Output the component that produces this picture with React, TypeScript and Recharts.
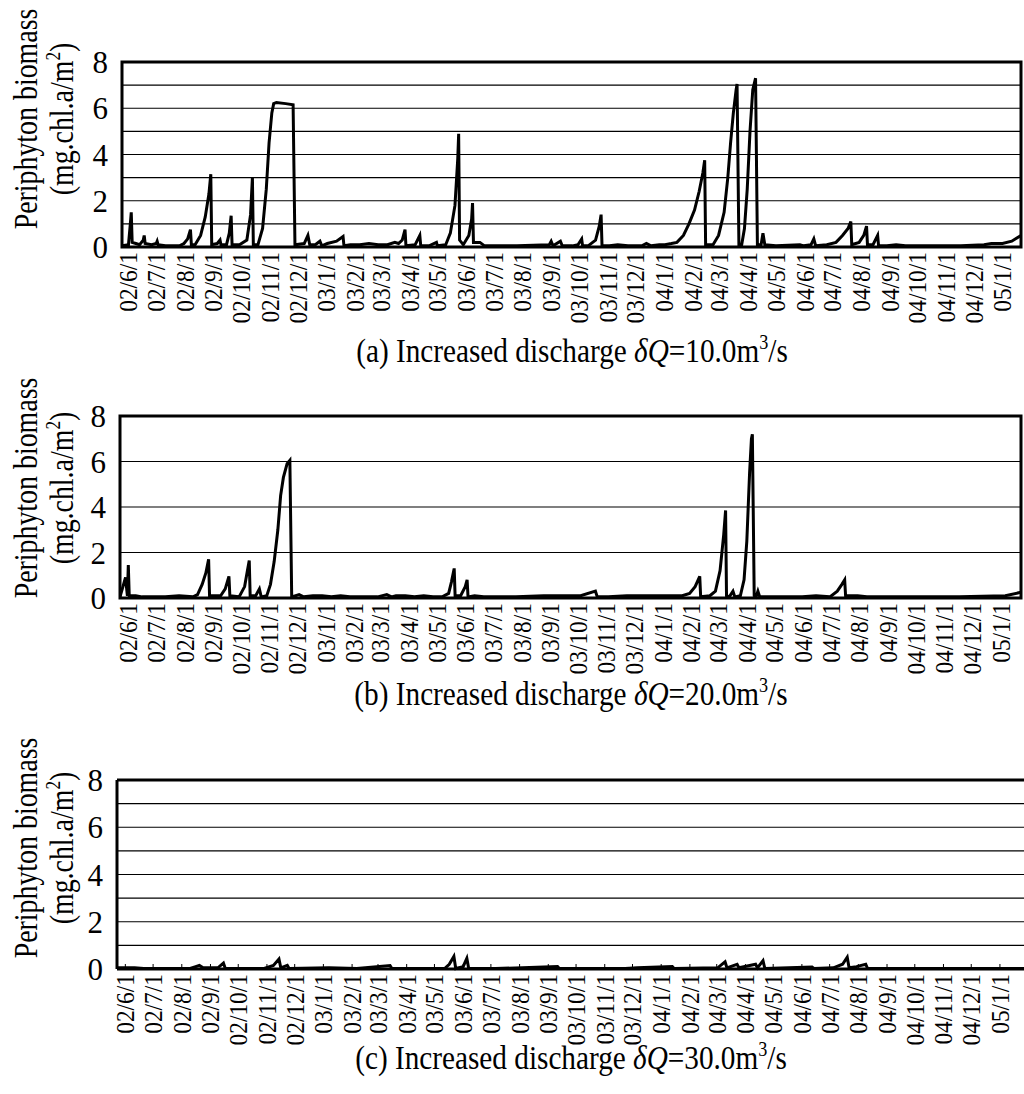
import React from "react";
import {
  LineChart,
  Line,
  XAxis,
  YAxis,
  CartesianGrid,
  ReferenceArea,
  ReferenceLine,
} from "recharts";

// month tick labels (yy/m/d)
const monthLabels = [
  "02/6/1", "02/7/1", "02/8/1", "02/9/1", "02/10/1", "02/11/1", "02/12/1",
  "03/1/1", "03/2/1", "03/3/1", "03/4/1", "03/5/1", "03/6/1", "03/7/1",
  "03/8/1", "03/9/1", "03/10/1", "03/11/1", "03/12/1",
  "04/1/1", "04/2/1", "04/3/1", "04/4/1", "04/5/1", "04/6/1", "04/7/1",
  "04/8/1", "04/9/1", "04/10/1", "04/11/1", "04/12/1",
  "05/1/1",
];

const yTicks = [0, 2, 4, 6, 8];
const gridValues = [0, 1, 2, 3, 4, 5, 6, 7, 8];

// [days since 2002/6/1, biomass mg.chl.a/m2]
const biomassQ10 = [
  [-7, 0.05], [0, 0.1], [2, 1.0], [3, 1.5], [4, 0.2], [8, 0.15], [12, 0.1], [16, 0.3], [17, 0.5], [18, 0.15],
  [25, 0.1], [30, 0.15], [31, 0.25], [32, 0.1], [40, 0.05], [55, 0.05], [60, 0.15], [64, 0.35], [67, 0.75], [68, 0.1],
  [72, 0.1], [78, 0.5], [83, 1.3], [87, 2.3], [89, 3.15], [90, 0.1], [96, 0.15], [99, 0.3], [100, 0.1], [106, 0.1],
  [109, 0.6], [111, 1.35], [112, 0.1], [120, 0.1], [128, 0.3], [132, 1.4], [134, 3.0], [135, 0.1], [140, 0.1], [145, 0.8],
  [149, 2.5], [152, 4.5], [155, 5.8], [157, 6.2], [160, 6.25], [170, 6.2], [178, 6.15], [180, 0.1], [190, 0.15], [194, 0.5],
  [196, 0.1], [202, 0.1], [207, 0.25], [209, 0.05], [215, 0.15], [225, 0.25], [232, 0.45], [233, 0.05], [240, 0.1], [250, 0.1],
  [260, 0.15], [270, 0.1], [280, 0.1], [288, 0.2], [292, 0.15], [296, 0.3], [299, 0.75], [300, 0.05], [310, 0.1], [315, 0.5],
  [316, 0.05], [325, 0.05], [333, 0.2], [334, 0.05], [343, 0.1], [348, 0.6], [353, 1.8], [356, 3.8], [357, 4.9], [358, 0.3],
  [362, 0.1], [368, 0.5], [371, 1.2], [372, 1.9], [373, 0.2], [380, 0.2], [385, 0.05], [420, 0.05], [455, 0.1], [457, 0.25],
  [459, 0.05], [467, 0.25], [469, 0.05], [480, 0.05], [486, 0.1], [490, 0.35], [491, 0.05], [497, 0.05], [505, 0.3], [509, 0.9],
  [511, 1.4], [512, 0.05], [520, 0.05], [529, 0.1], [540, 0.05], [555, 0.05], [560, 0.15], [565, 0.05], [574, 0.1], [580, 0.1],
  [587, 0.15], [593, 0.2], [600, 0.5], [606, 1.0], [612, 1.6], [617, 2.4], [621, 3.2], [623, 3.75], [624, 0.1], [632, 0.1],
  [638, 0.5], [644, 1.5], [648, 3.0], [651, 4.5], [654, 5.8], [657, 6.8], [658, 7.05], [660, 0.1], [663, 0.1], [666, 0.8],
  [669, 2.5], [672, 5.0], [675, 6.8], [678, 7.3], [680, 0.1], [684, 0.1], [686, 0.6], [688, 0.1], [700, 0.05], [726, 0.1],
  [730, 0.05], [738, 0.1], [741, 0.35], [743, 0.05], [755, 0.1], [765, 0.2], [772, 0.5], [778, 0.8], [781, 1.1], [782, 0.1],
  [790, 0.2], [795, 0.5], [798, 0.9], [799, 0.1], [805, 0.1], [810, 0.5], [811, 0.05], [820, 0.05], [830, 0.1], [840, 0.05],
  [900, 0.05], [925, 0.1], [933, 0.15], [945, 0.15], [955, 0.25], [965, 0.5],
];

const biomassQ20 = [
  [-9, 0.05], [-3, 0.9], [-1, 0.1], [0, 1.45], [1, 0.1], [8, 0.1], [15, 0.05], [30, 0.05], [40, 0.05], [55, 0.1],
  [70, 0.05], [75, 0.15], [80, 0.6], [84, 1.1], [87, 1.7], [88, 0.1], [100, 0.1], [105, 0.4], [109, 0.95], [110, 0.1],
  [120, 0.05], [126, 0.5], [129, 1.2], [131, 1.65], [132, 0.1], [138, 0.1], [142, 0.4], [144, 0.05], [150, 0.1], [154, 0.6],
  [158, 1.6], [162, 3.0], [165, 4.5], [168, 5.3], [172, 5.9], [175, 6.05], [177, 0.05], [185, 0.15], [190, 0.05], [200, 0.1],
  [210, 0.1], [220, 0.05], [230, 0.1], [240, 0.05], [250, 0.05], [270, 0.05], [280, 0.15], [285, 0.05], [290, 0.1], [300, 0.1],
  [310, 0.05], [320, 0.1], [330, 0.05], [340, 0.05], [347, 0.2], [350, 0.7], [353, 1.3], [354, 0.1], [360, 0.1], [365, 0.5],
  [367, 0.8], [368, 0.05], [375, 0.1], [385, 0.05], [420, 0.05], [450, 0.1], [470, 0.1], [490, 0.1], [506, 0.3], [508, 0.05],
  [520, 0.05], [540, 0.1], [560, 0.1], [580, 0.1], [600, 0.1], [608, 0.2], [614, 0.5], [619, 0.95], [620, 0.05], [630, 0.1],
  [636, 0.3], [641, 1.2], [645, 2.8], [647, 3.85], [648, 0.1], [651, 0.05], [655, 0.3], [657, 0.05], [663, 0.1], [667, 0.8],
  [670, 2.5], [673, 5.5], [675, 7.0], [676, 7.2], [678, 0.1], [680, 0.05], [682, 0.3], [684, 0.05], [700, 0.05], [730, 0.05],
  [745, 0.1], [760, 0.05], [768, 0.3], [773, 0.6], [776, 0.8], [777, 0.1], [790, 0.1], [800, 0.05], [850, 0.05], [900, 0.05],
  [950, 0.1], [967, 0.25],
];

const biomassQ30 = [
  [-9, 0.05], [10, 0.05], [20, 0.02], [70, 0.02], [76, 0.1], [80, 0.15], [84, 0.05], [100, 0.05], [106, 0.25], [108, 0.02],
  [150, 0.02], [160, 0.15], [166, 0.42], [168, 0.05], [175, 0.15], [177, 0.02], [220, 0.05], [250, 0.02], [286, 0.15], [288, 0.02],
  [345, 0.02], [350, 0.2], [355, 0.53], [357, 0.02], [365, 0.1], [369, 0.45], [371, 0.02], [400, 0.02], [467, 0.1], [469, 0.02],
  [540, 0.02], [553, 0.05], [591, 0.1], [593, 0.02], [640, 0.05], [648, 0.3], [650, 0.05], [661, 0.2], [663, 0.05], [681, 0.2],
  [683, 0.05], [689, 0.35], [691, 0.02], [742, 0.08], [744, 0.02], [765, 0.05], [775, 0.2], [780, 0.5], [782, 0.05], [790, 0.1],
  [800, 0.2], [802, 0.02], [830, 0.02], [971, 0.02],
];

const FONT = "'Liberation Serif', 'Times New Roman', serif";
const DAY_MS = 86400000;

const labelToDay = (label: string) => {
  const [yy, mm] = label.split("/").map(Number);
  return Math.round((Date.UTC(2000 + yy, mm - 1, 1) - Date.UTC(2002, 5, 1)) / DAY_MS);
};
const monthDays = monthLabels.map(labelToDay);
const dayToLabel: Record<number, string> = {};
monthDays.forEach((d, i) => (dayToLabel[d] = monthLabels[i]));

const MonthTick = (props: any) => {
  const { x, y, payload, shift = 0 } = props;
  const ty = y + 5 + shift;
  return (
    <text
      x={0}
      y={0}
      transform={`translate(${x} ${ty}) rotate(-90) scale(0.9 1)`}
      textAnchor="end"
      dominantBaseline="central"
      fontSize={26}
      fontFamily={FONT}
      fill="#000"
    >
      {dayToLabel[payload.value]}
    </text>
  );
};

const Sup = ({ children }: { children: React.ReactNode }) => (
  <span style={{ fontSize: "0.62em", position: "relative", top: "-0.6em" }}>{children}</span>
);

interface PanelProps {
  data: number[][];
  letter: string;
  dq: string;
  top: number;
  bottom: number;
  left: number;
  right: number;
  domain: [number, number];
  closed: boolean;
  titleY: number;
  captionBaseline: number;
}

const Panel = ({ data, letter, dq, top, bottom, left, right, domain, closed, titleY, captionBaseline }: PanelProps) => {
  const mTop = 20;
  const axisH = 100;
  const yW = 60;
  const rows = data.map(([day, v]) => ({ day, v }));
  // the open panel (c) shows small inward month ticks
  const tickSize = closed ? 0 : -5;
  return (
    <>
      <div style={{ position: "absolute", left: 0, top: top - mTop }}>
        <LineChart
          width={1024}
          height={mTop + (bottom - top) + axisH}
          data={rows}
          margin={{ top: mTop, left: left - yW, right: 1024 - right, bottom: 0 }}
        >
          <CartesianGrid horizontal vertical={false} horizontalValues={gridValues} stroke="#000" strokeWidth={1.2} />
          <XAxis
            dataKey="day"
            type="number"
            domain={domain}
            allowDataOverflow
            ticks={monthDays}
            interval={0}
            tick={<MonthTick shift={-tickSize} />}
            tickLine={closed ? false : { stroke: "#000", strokeWidth: 1 }}
            tickSize={tickSize}
            tickMargin={0}
            axisLine={false}
            height={axisH}
          />
          <YAxis
            domain={[0, 8]}
            ticks={yTicks}
            width={yW}
            tickLine={false}
            tickSize={0}
            tickMargin={14}
            axisLine={false}
            tick={{ fontSize: 31, fontFamily: FONT, fill: "#000" }}
          />
          {closed ? (
            <ReferenceArea x1={domain[0]} x2={domain[1]} y1={0} y2={8} fill="none" stroke="#000" strokeWidth={3} ifOverflow="visible" />
          ) : null}
          {!closed ? <ReferenceLine y={0} stroke="#000" strokeWidth={3} /> : null}
          {!closed ? <ReferenceLine y={8} stroke="#000" strokeWidth={3} /> : null}
          {!closed ? <ReferenceLine x={domain[0]} stroke="#000" strokeWidth={3} /> : null}
          <Line
            type="linear"
            dataKey="v"
            stroke="#000"
            strokeWidth={3}
            dot={false}
            isAnimationActive={false}
          />
        </LineChart>
      </div>
      <div
        style={{
          position: "absolute",
          left: 46,
          top: titleY,
          width: 340,
          transform: "translate(-50%, -50%) rotate(-90deg) scaleX(0.82)",
          textAlign: "center",
          fontFamily: FONT,
          fontSize: 34,
          lineHeight: "36px",
          whiteSpace: "nowrap",
          color: "#000",
        }}
      >
        <div>Periphyton biomass</div>
        <div>
          (mg.chl.a/m<Sup>2</Sup>)
        </div>
      </div>
      <div
        style={{
          position: "absolute",
          left: (left + right) / 2 - 400,
          width: 800,
          top: captionBaseline - 28,
          textAlign: "center",
          fontFamily: FONT,
          fontSize: 34,
          lineHeight: "34px",
          whiteSpace: "nowrap",
          color: "#000",
          transform: "scaleX(0.86)",
          transformOrigin: "center",
        }}
      >
        ({letter}) Increased discharge <i>δQ</i>={dq}m<Sup>3</Sup>/s
      </div>
    </>
  );
};

export default function App() {
  return (
    <div style={{ position: "absolute", left: 0, top: 0, width: 1024, height: 1094, background: "#fff", overflow: "hidden" }}>
      <Panel data={biomassQ10} letter="a" dq="10.0" top={62} bottom={247} left={122} right={1021} domain={[-7, 965]} closed titleY={119} captionBaseline={362} />
      <Panel data={biomassQ20} letter="b" dq="20.0" top={416} bottom={598} left={120} right={1021} domain={[-9, 967]} closed titleY={488} captionBaseline={705} />
      <Panel data={biomassQ30} letter="c" dq="30.0" top={780} bottom={969} left={117} right={1024} domain={[-9, 971]} closed={false} titleY={848} captionBaseline={1069} />
    </div>
  );
}
